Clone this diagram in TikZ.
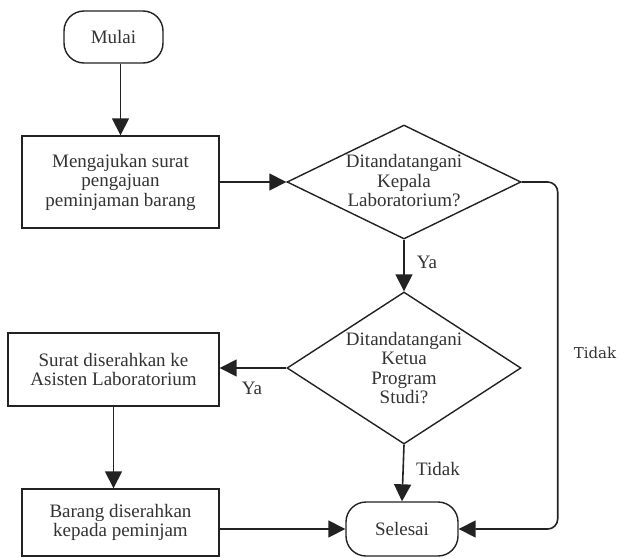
\documentclass[tikz,border=0pt]{standalone}
\usepackage{fontspec}
\setmainfont{Liberation Serif}
\newfontfamily\slabfont{DejaVu Serif}
\usetikzlibrary{arrows.meta,shapes.geometric}
\definecolor{linecol}{HTML}{222222}
\definecolor{textcol}{HTML}{333333}
\begin{document}
\begin{tikzpicture}[x=1pt,y=-1pt,
  every node/.style={text=textcol},
  mainfont/.style={font=\fontsize{19}{19.5}\selectfont},
  line/.style={draw=linecol, line width=1.6pt},
  arr/.style={line, -{Triangle[length=17pt,width=17pt]}},
  proc/.style={rectangle, draw=linecol, line width=1.4pt, inner sep=0pt, align=center, mainfont},
  term/.style={rectangle, rounded corners=20pt, draw=linecol, line width=1.4pt, inner sep=0pt, align=center, mainfont},
  dia/.style={diamond, draw=linecol, line width=1.4pt, inner sep=0pt},
  txt/.style={align=center, inner sep=0pt, mainfont},
  lbl/.style={inner sep=0pt, mainfont}
]
\useasboundingbox (0,0) rectangle (621,557);
\fill[white] (0,0) rectangle (621,557);

\node[term, minimum width=99pt, minimum height=52pt] (mulai) at (113.5,37) {Mulai};
\node[proc, minimum width=197pt, minimum height=92pt] (box1) at (120.5,182) {Mengajukan surat\\pengajuan\\peminjaman barang};
\node[dia, minimum width=234pt, minimum height=114pt] (d1) at (404,182) {};
\node[txt] (d1text) at (404,181) {Ditandatangani\\Kepala\\Laboratorium?};
\node[dia, minimum width=234pt, minimum height=152pt] (d2) at (404,368) {};
\node[txt] (d2text) at (404,368) {Ditandatangani\\Ketua\\Program\\Studi?};
\node[proc, minimum width=211pt, minimum height=73pt] (box2) at (113.5,369.5) {Surat diserahkan ke\\Asisten Laboratorium};
\node[proc, minimum width=197pt, minimum height=67pt] (box3) at (120.5,522.5) {Barang diserahkan\\kepada peminjam};
\node[term, minimum width=112pt, minimum height=54pt] (selesai) at (402,529) {Selesai};

\draw[arr] (mulai.south -| box1.north) -- (box1.north);
\draw[arr] (box1.east) -- (d1.west);
\draw[arr] (d1.south) -- (d2.north);
\draw[arr] (d2.west) -- (d2.west -| box2.east);
\draw[arr] (box2.south) -- (box2.south |- box3.north);
\draw[arr] (box3.east |- selesai.west) -- (selesai.west);
\draw[arr] (d2.south) -- (selesai.north);
\draw[arr, rounded corners=10pt] (d1.east) -| ([xshift=99pt]selesai.east) -- (selesai.east);

\node[lbl] (ya1) at (427,262) {Ya};
\node[lbl] (ya2) at (252,388) {Ya};
\node[lbl] (tidak1) at (438,469) {Tidak};
\node[inner sep=0pt, font=\slabfont\fontsize{15}{18}\selectfont] (tidak2) at (595,353) {Tidak};
\end{tikzpicture}
\end{document}
